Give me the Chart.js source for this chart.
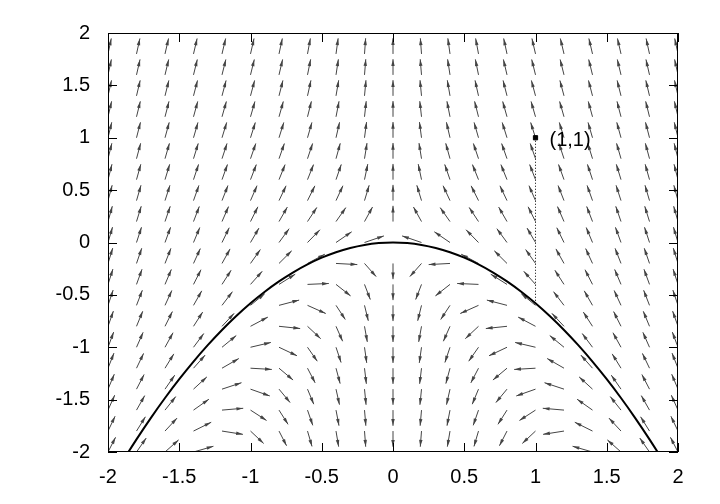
<!DOCTYPE html>
<html><head><meta charset="utf-8">
<script src="https://cdn.jsdelivr.net/npm/chart.js@4"></script>
<style>html,body{margin:0;padding:0;background:#fff}</style>
</head><body>
<canvas id="c" width="720" height="504"></canvas>
<script>
// tick labels
const xTicks = [-2,-1.5,-1,-0.5,0,0.5,1,1.5,2];
const yTicks = [-2,-1.5,-1,-0.5,0,0.5,1,1.5,2];
// vector field grid (values every 0.2)
const gridX = [-2,-1.8,-1.6,-1.4,-1.2,-1,-0.8,-0.6,-0.4,-0.2,0,0.2,0.4,0.6,0.8,1,1.2,1.4,1.6,1.8,2];
const gridY = [-2,-1.8,-1.6,-1.4,-1.2,-1,-0.8,-0.6,-0.4,-0.2,0,0.2,0.4,0.6,0.8,1,1.2,1.4,1.6,1.8,2];
// field: dx=-x, dy=2y+k x^2 ; invariant curve y=-0.58 x^2
const fieldK = 2.32;
const curveX = [-2,-1.9,-1.8,-1.7,-1.6,-1.5,-1.4,-1.3,-1.2,-1.1,-1,-0.9,-0.8,-0.7,-0.6,-0.5,-0.4,-0.3,-0.2,-0.1,0,0.1,0.2,0.3,0.4,0.5,0.6,0.7,0.8,0.9,1,1.1,1.2,1.3,1.4,1.5,1.6,1.7,1.8,1.9,2];
const curveY = curveX.map(x=>-0.58*x*x);
const pointXY = [1,1];
const dropY = -0.58;

const arrowPlugin = {
  id:'arrows',
  beforeDatasetsDraw(chart){
    const {ctx, chartArea:a, scales:{x,y}} = chart;
    ctx.save();
    ctx.beginPath(); ctx.rect(a.left,a.top,a.right-a.left,a.bottom-a.top); ctx.clip();
    ctx.strokeStyle='#444'; ctx.fillStyle='#444'; ctx.lineWidth=1;
    const L=0.15;
    for(const gx of gridX) for(const gy of gridY){
      let u=-gx, v=2*gy+fieldK*gx*gx;
      const n=Math.hypot(u,v); if(n<1e-9) continue;
      u=u/n*L; v=v/n*L;
      const x0=x.getPixelForValue(gx), y0=y.getPixelForValue(gy);
      const x1=x.getPixelForValue(gx+u), y1=y.getPixelForValue(gy+v);
      ctx.beginPath(); ctx.moveTo(x0,y0); ctx.lineTo(x1,y1); ctx.stroke();
      const ang=Math.atan2(y1-y0,x1-x0), h=7, w=0.25;
      ctx.beginPath(); ctx.moveTo(x1,y1);
      ctx.lineTo(x1-h*Math.cos(ang-w), y1-h*Math.sin(ang-w));
      ctx.lineTo(x1-h*Math.cos(ang+w), y1-h*Math.sin(ang+w));
      ctx.closePath(); ctx.fill();
    }
    ctx.restore();
  },
  afterDraw(chart){
    const {ctx, chartArea:a, scales:{x,y}} = chart;
    ctx.save(); ctx.strokeStyle='#000'; ctx.lineWidth=1;
    ctx.strokeRect(a.left+0.5,a.top+0.5,a.right-a.left-1,a.bottom-a.top-1);
    ctx.beginPath();
    for(const t of xTicks){const p=Math.round(x.getPixelForValue(t))+0.5;
      ctx.moveTo(p,a.bottom);ctx.lineTo(p,a.bottom-9);ctx.moveTo(p,a.top);ctx.lineTo(p,a.top+9);}
    for(const t of yTicks){const p=Math.round(y.getPixelForValue(t))+0.5;
      ctx.moveTo(a.left,p);ctx.lineTo(a.left+9,p);ctx.moveTo(a.right,p);ctx.lineTo(a.right-9,p);}
    ctx.stroke();
    ctx.fillStyle='#000'; ctx.font='20px "Liberation Sans", Arial'; ctx.textBaseline='middle';
    ctx.fillText('(1,1)', x.getPixelForValue(pointXY[0])+14, y.getPixelForValue(pointXY[1])+3);
    ctx.restore();
  }
};

new Chart(document.getElementById('c'),{
  type:'scatter',
  data:{datasets:[
    {data:curveX.map((v,i)=>({x:v,y:curveY[i]})),showLine:true,borderColor:'#000',borderWidth:2,pointRadius:0,tension:0.3},
    {data:[{x:pointXY[0],y:pointXY[1]},{x:pointXY[0],y:dropY}],showLine:true,borderColor:'#000',borderWidth:1,borderDash:[1,2],pointRadius:0},
    {data:[{x:pointXY[0],y:pointXY[1]}],pointStyle:'rect',pointRadius:3,backgroundColor:'#000',borderColor:'#000'}
  ]},
  options:{
    responsive:false,animation:false,
    layout:{padding:{top:33,right:42,left:0,bottom:0}},
    plugins:{legend:{display:false},tooltip:{enabled:false}},
    scales:{
      x:{min:-2,max:2,grid:{display:false},border:{display:false},
        afterBuildTicks:s=>{s.ticks=xTicks.map(v=>({value:v}))},
        afterFit:s=>{s.height=52},
        ticks:{color:'#000',font:{size:20,family:'"Liberation Sans", Arial'},padding:5,maxRotation:0,callback:v=>String(v)}},
      y:{min:-2,max:2,grid:{display:false},border:{display:false},
        afterBuildTicks:s=>{s.ticks=yTicks.map(v=>({value:v}))},
        afterFit:s=>{s.width=108},
        ticks:{color:'#000',font:{size:20,family:'"Liberation Sans", Arial'},padding:10,callback:v=>String(v)}}
    }
  },
  plugins:[arrowPlugin]
});
</script>
</body></html>
